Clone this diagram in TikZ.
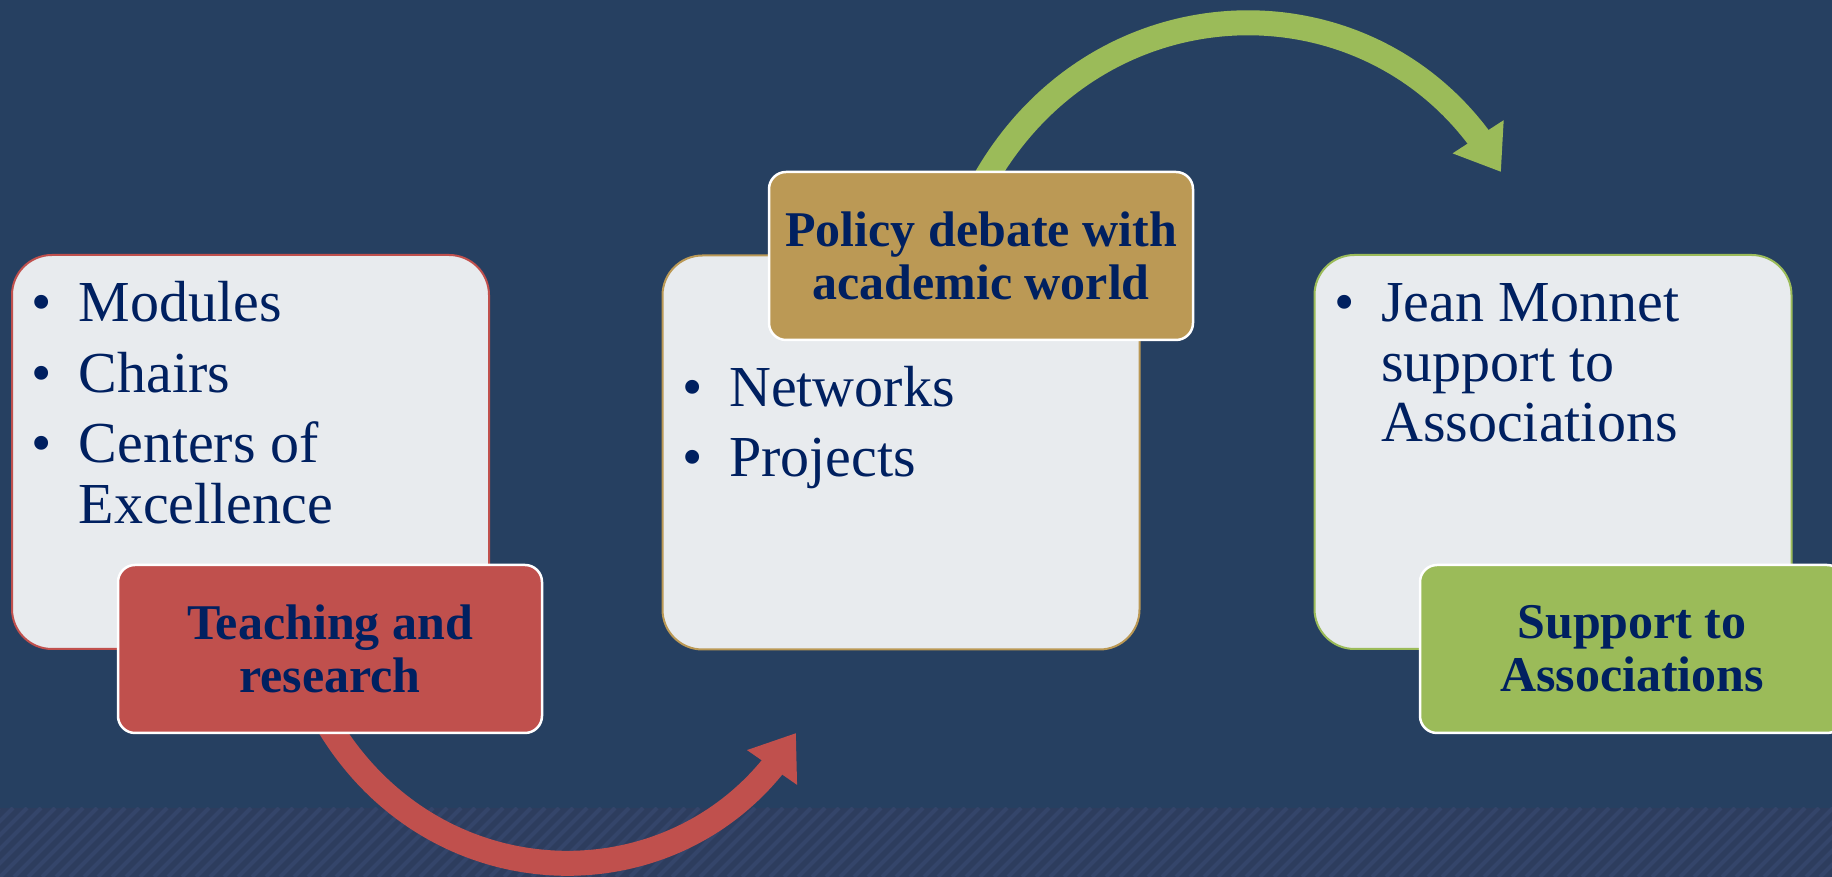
\documentclass[tikz,border=0pt]{standalone}
\usepackage{fontspec}
\setmainfont{Liberation Serif}
\usepackage{pgf,tikz}
\usetikzlibrary{arrows.meta,bending}

\definecolor{jmnavy}{HTML}{264061}
\definecolor{jmband}{HTML}{2D3D5E}
\definecolor{jmstripe}{HTML}{34456A}
\definecolor{jmpanel}{HTML}{E8EBEE}
\definecolor{jmtext}{HTML}{002060}
\definecolor{jmred}{HTML}{C0504D}
\definecolor{jmgold}{HTML}{BB9955}
\definecolor{jmgreen}{HTML}{9BBB59}

\pgfdeclarelayer{back}
\pgfdeclarelayer{arcs}
\pgfsetlayers{back,arcs,main}

\newcommand{\jmdot}{\llap{\makebox[47pt][l]{\textbullet}}}

\begin{document}
\begin{tikzpicture}[x=1pt,y=1pt,
	panel/.style={draw,line width=2pt,fill=jmpanel,rounded corners=40pt,minimum width=477pt,minimum height=394pt,inner sep=0pt},
	lab/.style={draw=white,line width=2.5pt,rounded corners=17pt,minimum width=424pt,minimum height=168pt,inner sep=0pt,align=center,text=jmtext,font=\fontsize{50}{53}\selectfont\bfseries},
	item/.style={anchor=base west,inner sep=0pt,text=jmtext,font=\fontsize{58}{60}\selectfont},
	bigarc/.style={line width=25pt,-{Triangle[length=42pt,width=58pt]}}]
	\useasboundingbox (0,0) rectangle (1832,877);
	\clip (0,0) rectangle (1832,877);

	\node[panel,draw=jmred] (boxteach) at (250.5,425) {};
	\node[panel,draw=jmgold] (boxpolicy) at (901,424.5) {};
	\node[panel,draw=jmgreen] (boxsupport) at (1553,425) {};

	\node[lab,fill=jmred] (labteach) at (330,228) {Teaching and\\research};
	\node[lab,fill=jmgold] (labpolicy) at (981,621) {Policy debate with\\academic world};
	\node[lab,fill=jmgreen] (labsupport) at (1632,228) {Support to\\Associations};

	\node[item] (modules) at (78.5,555) {\jmdot Modules};
	\node[item] (chairs) at (78.5,484) {\jmdot Chairs};
	\node[item] (centers) at (78.5,414) {\jmdot Centers of};
	\node[item] (excel) at (78.5,353) {Excellence};

	\node[item] (networks) at (729,470) {\jmdot Networks};
	\node[item] (projects) at (729,400) {\jmdot Projects};

	\node[item] (monnet) at (1381,555) {\jmdot Jean Monnet};
	\node[item] (suppto) at (1381,495) {support to};
	\node[item] (assoc) at (1381,435) {Associations};

	\coordinate (redtip) at (796,144);
	\coordinate (greentip) at (1501,705);

	% curved arrows, tails tucked under the labels
	\begin{pgfonlayer}{arcs}
		\draw[bigarc,jmred,shorten <=-14pt] ([xshift=4pt]labteach.south) to[out=-59.5,in=239.5,looseness=1.12] (redtip);
		\draw[bigarc,jmgreen,shorten <=-14pt] ([xshift=9pt]labpolicy.north) to[out=60.8,in=119.2,looseness=1.144] (greentip);
	\end{pgfonlayer}

	% background and striped band at the bottom
	\begin{pgfonlayer}{back}
		\fill[jmnavy] (0,0) rectangle (1832,877);
		\begin{scope}
			\clip (0,0) rectangle (1832,69);
			\fill[jmband] (0,0) rectangle (1832,69);
			\foreach \x in {-84,-70,...,1840}
				\draw[jmstripe,line width=4pt] (\x,0) -- ++(69,69);
		\end{scope}
	\end{pgfonlayer}
\end{tikzpicture}
\end{document}
